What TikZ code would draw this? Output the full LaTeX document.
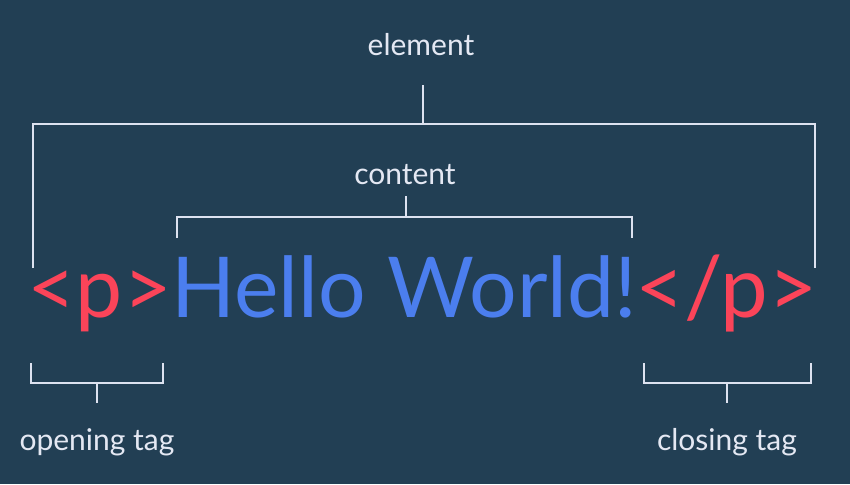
\documentclass[tikz,border=0pt]{standalone}
\usepackage{fontspec}
\setmainfont{Lato}
\usetikzlibrary{positioning, calc}
\definecolor{hbg}{HTML}{223F54}
\definecolor{hred}{HTML}{FB4459}
\definecolor{hblue}{HTML}{4B7EEE}
\definecolor{hline}{HTML}{DDE2F0}

\begin{document}
\begin{tikzpicture}[
      x=1pt, y=-1pt,
      tag/.style ={font=\fontsize{84}{84}\selectfont, text=hred,
                   inner sep=0pt, anchor=base west},
      code/.style={font=\fontsize{84}{84}\selectfont, text=hblue,
                   inner sep=0pt, anchor=base west},
      lbl/.style ={font=\fontsize{30}{30}\selectfont, text=hline!80!white},
      brk/.style ={draw=hline, line width=1.6pt},
    ]
      \fill[hbg] (0,0) rectangle (850,484);
      \useasboundingbox (0,0) rectangle (850,484);
      % the source line
      \node[tag]  (open)  at (27,317)             {<p>};
      \node[code] (hello) at ($(open.base east)+(-1,0)$)  {Hello World!};
      \node[tag, font=\fontsize{85}{85}\selectfont]
                  (close) at ($(hello.base east)+(-2,0)$) {</p>};
      % labels
      \node[lbl] (element) at (421,45)  {element};
      \node[lbl] (content) at (405,175) {content};
      \node[lbl] (opening) at (97,442)  {opening tag};
      \node[lbl] (closing) at (727,442) {closing tag};
      % element bracket
      \coordinate (el-l) at (33,268);
      \coordinate (el-r) at (815,268);
      \coordinate (el-m) at (423,124);
      \draw[brk] (el-l) |- (el-m) -| (el-r);
      \draw[brk] (el-m) -- ++(0,-39);
      % content bracket
      \coordinate (co-l) at (177,238);
      \coordinate (co-r) at (632,238);
      \coordinate (co-m) at (406,217);
      \draw[brk] (co-l) |- (co-m) -| (co-r);
      \draw[brk] (co-m) -- ++(0,-21);
      % opening tag bracket
      \coordinate (op-l) at (31,363);
      \coordinate (op-r) at (163,363);
      \coordinate (op-m) at (97,383);
      \draw[brk] (op-l) |- (op-m) -| (op-r);
      \draw[brk] (op-m) -- ++(0,20);
      % closing tag bracket
      \coordinate (cl-l) at (644,363);
      \coordinate (cl-r) at (811,363);
      \coordinate (cl-m) at (727,383);
      \draw[brk] (cl-l) |- (cl-m) -| (cl-r);
      \draw[brk] (cl-m) -- ++(0,20);
    \end{tikzpicture}
\end{document}
